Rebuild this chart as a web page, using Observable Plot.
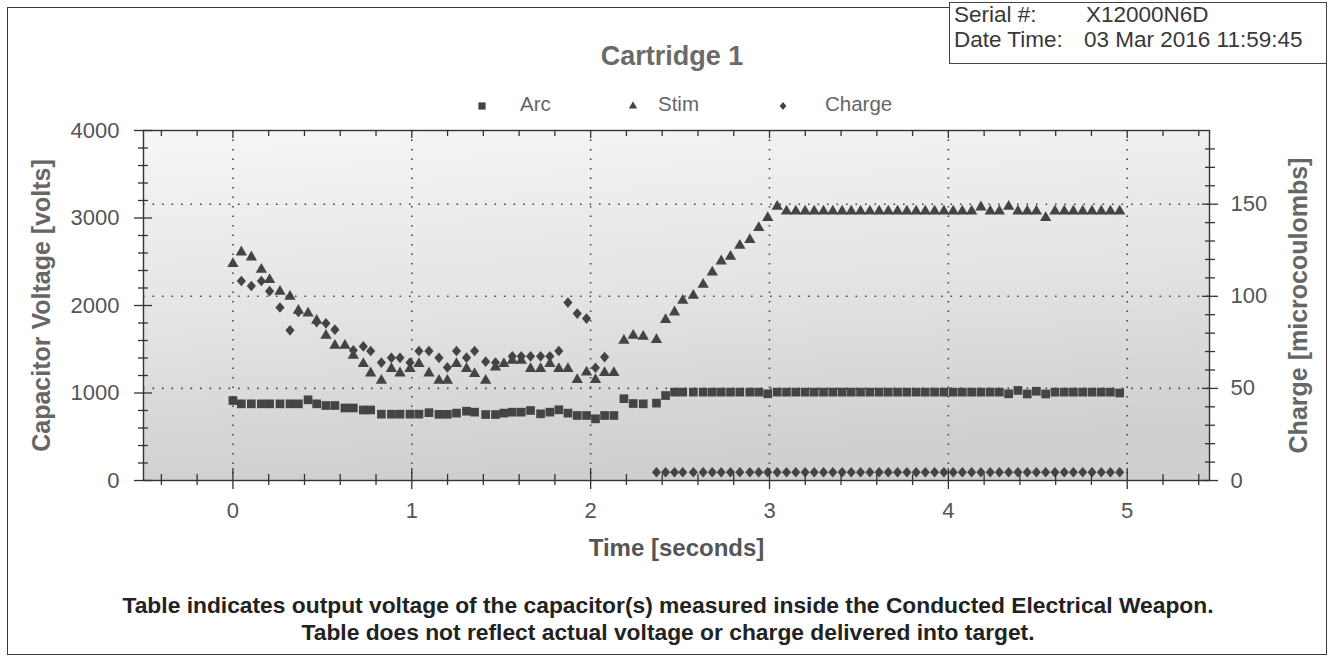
<!DOCTYPE html>
<html>
<head>
<meta charset="utf-8">
<script src="https://cdn.jsdelivr.net/npm/d3@7"></script>
<script src="https://cdn.jsdelivr.net/npm/@observablehq/plot@0.6"></script>
<style>
  html, body { margin: 0; padding: 0; background: #fff; }
  #page { position: relative; width: 1328px; height: 662px; overflow: hidden; font-family: "Liberation Sans", Arial, sans-serif; }
  #border { position: absolute; left: 7px; top: 7px; width: 1320px; height: 648px; border: 1.5px solid #3a3a3a; box-sizing: border-box; }
  #chart { position: absolute; left: 0; top: 118px; }
  .abs { position: absolute; white-space: nowrap; }
  #title { left: 672px; top: 43px; transform: translateX(-50%); font-size: 27px; line-height: 27px; font-weight: bold; color: #6a6a6a; }
  #info { position: absolute; left: 949px; top: 2px; width: 378px; height: 62px; border: 1.5px solid #444; box-sizing: border-box; background: #fff; }
  .info { font-size: 22.5px; line-height: 22.5px; color: #383838; }
  .leg { font-size: 20.5px; line-height: 20.5px; color: #666; }
  .cap { left: 668px; transform: translateX(-50%); font-size: 22.8px; line-height: 23px; font-weight: bold; color: #222; }
</style>
</head>
<body>
<div id="page">
  <div id="border"></div>
  <div id="chart"></div>
  <div id="title" class="abs"></div>
  <div id="legend"></div>
  <div id="info"></div>
  <div id="caption"></div>
</div>
<script>
// ---------- data ----------
const chartTitle = "Cartridge 1";
const seriesNames = ["Arc", "Stim", "Charge"];
const serialLabel = "Serial #:";
const serialValue = "X12000N6D";
const dateLabel = "Date Time:";
const dateValue = "03 Mar 2016 11:59:45";
const xLabel = "Time [seconds]";
const yLabel = "Capacitor Voltage [volts]";
const y2Label = "Charge [microcoulombs]";
const captionLines = [
  "Table indicates output voltage of the capacitor(s) measured inside the Conducted Electrical Weapon.",
  "Table does not reflect actual voltage or charge delivered into target."
];

// sample times (seconds)
const time = [
  0, 0.047, 0.103, 0.159, 0.205, 0.263, 0.319, 0.366, 0.420, 0.468,
  0.520, 0.570, 0.626, 0.673, 0.729, 0.770, 0.830, 0.886, 0.934, 0.990,
  1.040, 1.096, 1.152, 1.199, 1.250, 1.306, 1.351, 1.413, 1.468, 1.515,
  1.562, 1.612, 1.664, 1.720, 1.772, 1.822, 1.873, 1.925, 1.977, 2.027,
  2.078, 2.130, 2.186, 2.238, 2.294, 2.368, 2.419, 2.469, 2.515, 2.574,
  2.629, 2.680, 2.730, 2.782, 2.834, 2.890, 2.940, 2.990, 3.043, 3.095,
  3.147, 3.199, 3.250, 3.302, 3.354, 3.406, 3.457, 3.509, 3.561, 3.613,
  3.664, 3.716, 3.768, 3.820, 3.871, 3.923, 3.975, 4.027, 4.078, 4.130,
  4.182, 4.234, 4.285, 4.337, 4.389, 4.441, 4.492, 4.544, 4.596, 4.648,
  4.699, 4.751, 4.803, 4.855, 4.906, 4.958
];
// Arc voltage (volts)
const arc = [
  914, 876, 876, 876, 876, 876, 876, 876, 922, 876,
  857, 857, 829, 829, 806, 806, 758, 758, 758, 758,
  758, 775, 756, 756, 770, 792, 781, 754, 754, 770,
  781, 781, 800, 762, 781, 808, 770, 743, 743, 705,
  743, 743, 935, 880, 876, 884, 971, 1010, 1010, 1010,
  1010, 1010, 1010, 1010, 1010, 1010, 1010, 991, 1010, 1010,
  1010, 1010, 1010, 1010, 1010, 1010, 1010, 1010, 1010, 1010,
  1010, 1010, 1010, 1010, 1010, 1010, 1010, 1010, 1010, 1010,
  1010, 1010, 1010, 991, 1029, 989, 1020, 989, 1010, 1010,
  1010, 1010, 1010, 1010, 1010, 1000
];
// Stim voltage (volts)
const stim = [
  2477, 2610, 2553, 2412, 2294, 2160, 2103, 1943, 1912, 1829,
  1657, 1543, 1543, 1429, 1334, 1227, 1143, 1277, 1227, 1277,
  1334, 1227, 1143, 1143, 1334, 1277, 1220, 1143, 1295, 1334,
  1372, 1372, 1277, 1277, 1334, 1277, 1277, 1151, 1238, 1151,
  1231, 1231, 1600, 1657, 1645, 1608, 1837, 1924, 2057, 2115,
  2240, 2381, 2507, 2560, 2686, 2751, 2888, 3003, 3132, 3078,
  3078, 3078, 3078, 3078, 3078, 3078, 3078, 3078, 3078, 3078,
  3078, 3078, 3078, 3078, 3078, 3078, 3078, 3078, 3078, 3078,
  3124, 3078, 3078, 3132, 3078, 3078, 3078, 3003, 3078, 3078,
  3078, 3078, 3078, 3078, 3078, 3078
];
// Charge (microcoulombs), null where not visible
const charge = [
  null, 108.3, 105.6, 108.3, 102.8, 93.9, 81.5, 91.5, null, 86,
  85.3, 81.9, null, 70.7, 72.8, 70.3, 64, 66.6, 66.6, 64,
  70.3, 70.3, 66.6, 61.4, 70.3, 66.7, 70.3, 64.5, 64, null,
  67.4, 67.4, 67.4, 67.4, 67.4, 70.3, 96.6, 90.6, 87.9, 61.2,
  67, null, null, null, null, 4.5, 4.5, 4.5, 4.5, 4.5,
  4.5, 4.5, 4.5, 4.5, 4.5, 4.5, 4.5, 4.5, 4.5, 4.5,
  4.5, 4.5, 4.5, 4.5, 4.5, 4.5, 4.5, 4.5, 4.5, 4.5,
  4.5, 4.5, 4.5, 4.5, 4.5, 4.5, 4.5, 4.5, 4.5, 4.5,
  4.5, 4.5, 4.5, 4.5, 4.5, 4.5, 4.5, 4.5, 4.5, 4.5,
  4.5, 4.5, 4.5, 4.5, 4.5, 4.5
];

// axis extents and ticks
const timeDomain = [-0.5, 5.46];
const voltMax = 4000;
const chargeMax = 190;
const timeTicks = [0, 1, 2, 3, 4, 5];
const timeMinor = [-0.4, -0.2, 0.2, 0.4, 0.6, 0.8, 1.2, 1.4, 1.6, 1.8, 2.2, 2.4, 2.6, 2.8, 3.2, 3.4, 3.6, 3.8, 4.2, 4.4, 4.6, 4.8, 5.2, 5.4];
const voltTicks = [0, 1000, 2000, 3000, 4000];
const voltMinor = [200, 400, 600, 800, 1200, 1400, 1600, 1800, 2200, 2400, 2600, 2800, 3200, 3400, 3600, 3800];
const chargeTicks = [0, 50, 100, 150];
const chargeMinor = [10, 20, 30, 40, 60, 70, 80, 90, 110, 120, 130, 140, 160, 170, 180];
const chargeGrid = [50, 100, 150];

// ---------- build ----------
const K = voltMax / chargeMax; // charge -> voltage-scale factor (secondary axis)
const rows = time.map((t, i) => ({t, arc: arc[i], stim: stim[i], charge: charge[i]}));

const diamondSym = {
  draw(ctx, size) {
    const s = Math.sqrt(size), h = s * 0.7, w = s * 0.6;
    ctx.moveTo(0, -h); ctx.lineTo(w, 0); ctx.lineTo(0, h); ctx.lineTo(-w, 0); ctx.closePath();
  }
};

const bgDefs = () => {
  const defs = d3.create("svg:defs");
  const g = defs.append("linearGradient").attr("id", "plotbg")
    .attr("x1", "0").attr("y1", "0").attr("x2", "0.2").attr("y2", "1");
  g.append("stop").attr("offset", "0%").attr("stop-color", "#f6f6f6");
  g.append("stop").attr("offset", "55%").attr("stop-color", "#e3e3e3");
  g.append("stop").attr("offset", "100%").attr("stop-color", "#cfcfcf");
  return defs.node();
};

const markColor = "#444";
const axisStroke = "#333";
const gridStyle = {stroke: "#444", strokeOpacity: 1, strokeWidth: 1.6, strokeDasharray: "1.6,7.9"};
const fmt = d3.format("d");

const plot = Plot.plot({
  width: 1328,
  height: 452,
  marginTop: 12,
  marginBottom: 90,
  marginLeft: 143,
  marginRight: 119,
  style: {fontFamily: '"Liberation Sans", Arial, sans-serif', fontSize: "22px", color: "#555", background: "transparent", overflow: "visible"},
  x: {domain: timeDomain},
  y: {domain: [0, voltMax]},
  marks: [
    bgDefs,
    Plot.frame({fill: "url(#plotbg)", stroke: "none"}),
    Plot.gridX(timeTicks, gridStyle),
    Plot.gridY(chargeGrid.map(c => c * K), gridStyle),
    Plot.dot(rows, {x: "t", y: "arc", symbol: "square", r: 4.9, fill: markColor, stroke: "none"}),
    Plot.dot(rows, {x: "t", y: "stim", symbol: "triangle", r: 4.2, fill: markColor, stroke: "none"}),
    Plot.dot(rows, {x: "t", y: d => d.charge == null ? NaN : d.charge * K, symbol: diamondSym, r: 4.3, fill: markColor, stroke: "none"}),
    Plot.frame({stroke: axisStroke, strokeWidth: 1.4, fill: "none"}),
    // left axis ticks
    Plot.axisY(voltTicks, {anchor: "left", tickSize: 18, dx: 9, fill: "none", stroke: axisStroke, strokeWidth: 1.3, label: null}),
    Plot.axisY(voltMinor, {anchor: "left", tickSize: 10, dx: 5, fill: "none", stroke: axisStroke, strokeWidth: 1.3, label: null}),
    Plot.axisY(voltTicks, {anchor: "left", tickSize: 0, tickPadding: 24, tickFormat: fmt, fill: "#555", label: null}),
    // right axis ticks (charge)
    Plot.axisY(chargeTicks.map(c => c * K), {anchor: "right", tickSize: 16, dx: -8, fill: "none", stroke: axisStroke, strokeWidth: 1.3, label: null}),
    Plot.axisY(chargeMinor.map(c => c * K), {anchor: "right", tickSize: 10, dx: -5, fill: "none", stroke: axisStroke, strokeWidth: 1.3, label: null}),
    Plot.axisY(chargeTicks.map(c => c * K), {anchor: "right", tickSize: 0, tickPadding: 21, tickFormat: v => fmt(Math.round(v / K)), fill: "#555", label: null}),
    // bottom axis
    Plot.axisX(timeTicks, {anchor: "bottom", tickSize: 21, dy: -12, fill: "none", stroke: axisStroke, strokeWidth: 1.3, label: null}),
    Plot.axisX(timeMinor, {anchor: "bottom", tickSize: 11, dy: -6, fill: "none", stroke: axisStroke, strokeWidth: 1.3, label: null}),
    Plot.axisX(timeTicks, {anchor: "bottom", tickSize: 0, tickPadding: 22, tickFormat: fmt, fill: "#555", label: null}),
    // top axis
    Plot.axisX(timeTicks, {anchor: "top", tickSize: 7, dy: 7, fill: "none", stroke: axisStroke, strokeWidth: 1.3, label: null}),
    Plot.axisX(timeMinor, {anchor: "top", tickSize: 5, dy: 5, fill: "none", stroke: axisStroke, strokeWidth: 1.3, label: null}),
    // axis titles
    Plot.text([yLabel], {frameAnchor: "left", text: d => d, rotate: -90, textAnchor: "middle", lineAnchor: "middle", dx: -102, fontSize: 25, fontWeight: "bold", fill: "#666"}),
    Plot.text([y2Label], {frameAnchor: "right", text: d => d, rotate: -90, textAnchor: "middle", lineAnchor: "middle", dx: 89, fontSize: 25, fontWeight: "bold", fill: "#666"}),
    Plot.text([xLabel], {frameAnchor: "bottom", text: d => d, textAnchor: "middle", lineAnchor: "middle", dy: 68, fontSize: 24, fontWeight: "bold", fill: "#555"})
  ]
});
document.getElementById("chart").appendChild(plot);

// title
document.getElementById("title").textContent = chartTitle;

// info box
const info = document.getElementById("info");
[[serialLabel, 4, 1], [serialValue, 136, 1], [dateLabel, 4, 26], [dateValue, 134, 26]].forEach(([txt, l, t]) => {
  const s = document.createElement("div");
  s.className = "abs info";
  s.style.left = l + "px"; s.style.top = t + "px";
  s.textContent = txt;
  info.appendChild(s);
});

// legend
const legend = document.getElementById("legend");
const legendSyms = [d3.symbol(d3.symbolSquare, 52), d3.symbol(d3.symbolTriangle, 30), d3.symbol(diamondSym, 32)];
const legendPos = [[482, 520], [633, 658], [783, 825]];
seriesNames.forEach((name, i) => {
  const [sx, tx] = legendPos[i];
  const svg = d3.create("svg").attr("width", 14).attr("height", 14)
    .style("position", "absolute").style("left", (sx - 7) + "px").style("top", (105.5 - 7) + "px");
  svg.append("path").attr("transform", "translate(7,7)").attr("d", legendSyms[i]()).attr("fill", markColor);
  legend.appendChild(svg.node());
  const s = document.createElement("div");
  s.className = "abs leg";
  s.style.left = tx + "px"; s.style.top = "94px";
  s.textContent = name;
  legend.appendChild(s);
});

// caption
const cap = document.getElementById("caption");
captionLines.forEach((line, i) => {
  const s = document.createElement("div");
  s.className = "abs cap";
  s.style.top = (594 + i * 27) + "px";
  s.textContent = line;
  cap.appendChild(s);
});
</script>
</body>
</html>
